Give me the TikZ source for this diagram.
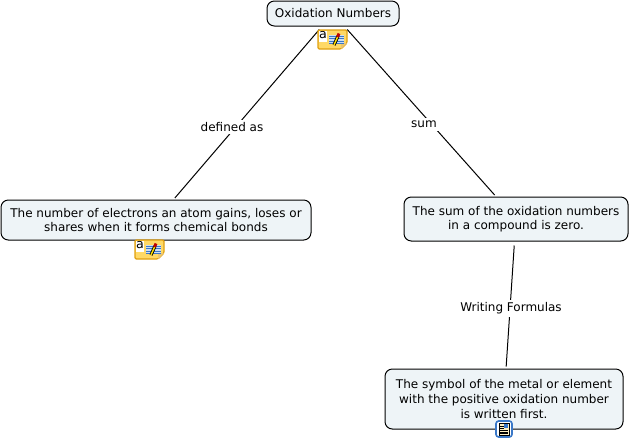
\documentclass[tikz,border=0pt]{standalone}
\usepackage{fontspec}
\setmainfont{DejaVu Sans}
\definecolor{boxfill}{HTML}{EEF4F7}
\definecolor{noteY}{HTML}{FFD966}
\definecolor{noteE}{HTML}{E0A010}
\definecolor{noteB}{HTML}{3A78C8}
\newcommand{\noteicon}[2]{%
  \begin{scope}[shift={(#1)}]
    \fill[noteY,draw=noteE,line width=0.9pt,rounded corners=1pt] (0,0) -- (29,0) -- (29,13) -- (23,19) -- (0,19) -- cycle;
    \fill[noteE!60] (23,19) -- (23,13) -- (29,13) -- cycle;
    \fill[white] (1,1) rectangle (9,12);
    \node[inner sep=0pt,font=\fontsize{9.5}{9.5}\selectfont] (#2) at (5,5.5) {a};
    \fill[white!75!noteB] (11,5) rectangle (26,14);
    \foreach \yy in {6,8.5,11,13.5} \draw[noteB,line width=0.6pt] (11,\yy) -- (26,\yy);
    \draw[black,line width=2.4pt] (16,15) -- (20,6);
    \draw[yellow!80!orange,line width=1.1pt] (16,15) -- (20,6);
    \draw[red!75!black,line width=2.2pt] (19.6,7) -- (21,3.5);
  \end{scope}}
\tikzset{
  concept/.style={draw=black,line width=0.75pt,fill=boxfill,rounded corners=5.5pt,inner sep=0pt,align=center,font=\fontsize{9pt}{10.9pt}\selectfont},
  linklabel/.style={fill=white,inner sep=2pt,font=\fontsize{9pt}{10.9pt}\selectfont},
  conn/.style={draw=black,line width=0.75pt,shorten <=3pt,shorten >=1.5pt}
}
\begin{document}
\begin{tikzpicture}[x=0.75pt,y=-0.75pt]
\useasboundingbox (0,0) rectangle (630,440);
\fill[white] (0,0) rectangle (630,440);
\node[concept,minimum width=99pt,minimum height=18.75pt] (root) at (333,13.5) {Oxidation Numbers};
\node[concept,minimum width=232.5pt,minimum height=30pt] (n1) at (156,220) {The number of electrons an atom gains, loses or\\shares when it forms chemical bonds};
\node[concept,minimum width=168pt,minimum height=33pt] (n2) at (516,219) {The sum of the oxidation numbers\\in a compound is zero.};
\node[concept,minimum width=178.5pt,minimum height=45pt] (n3) at (504,399) {The symbol of the metal or element\\with the positive oxidation number\\is written first.};
\draw[conn] (root) -- (n1);
\draw[conn] (root) -- (n2);
\draw[conn] (n2) -- (n3);
\node[linklabel] (l1) at (232,127) {defined as};
\node[linklabel] (l2) at (424,124.5) {sum};
\node[linklabel] (l3) at (511,308.5) {Writing Formulas};
\noteicon{318,30}{ic1}
\noteicon{135,240}{ic2}
\begin{scope}[shift={(496,421)}]
  \fill[white,draw=noteB,line width=1.2pt,rounded corners=2pt] (0,0) rectangle (16,16);
  \draw[black,line width=0.7pt,fill=noteY!40] (3,2) rectangle (13,14);
  \fill[noteB] (8,3) rectangle (12,7);
  \foreach \yy in {5,7,9,11,12.5} \draw[black,line width=0.6pt] (4,\yy) -- (8,\yy);
  \foreach \yy in {9,11,12.5} \draw[black,line width=0.6pt] (8,\yy) -- (12,\yy);
\end{scope}
\end{tikzpicture}
\end{document}
